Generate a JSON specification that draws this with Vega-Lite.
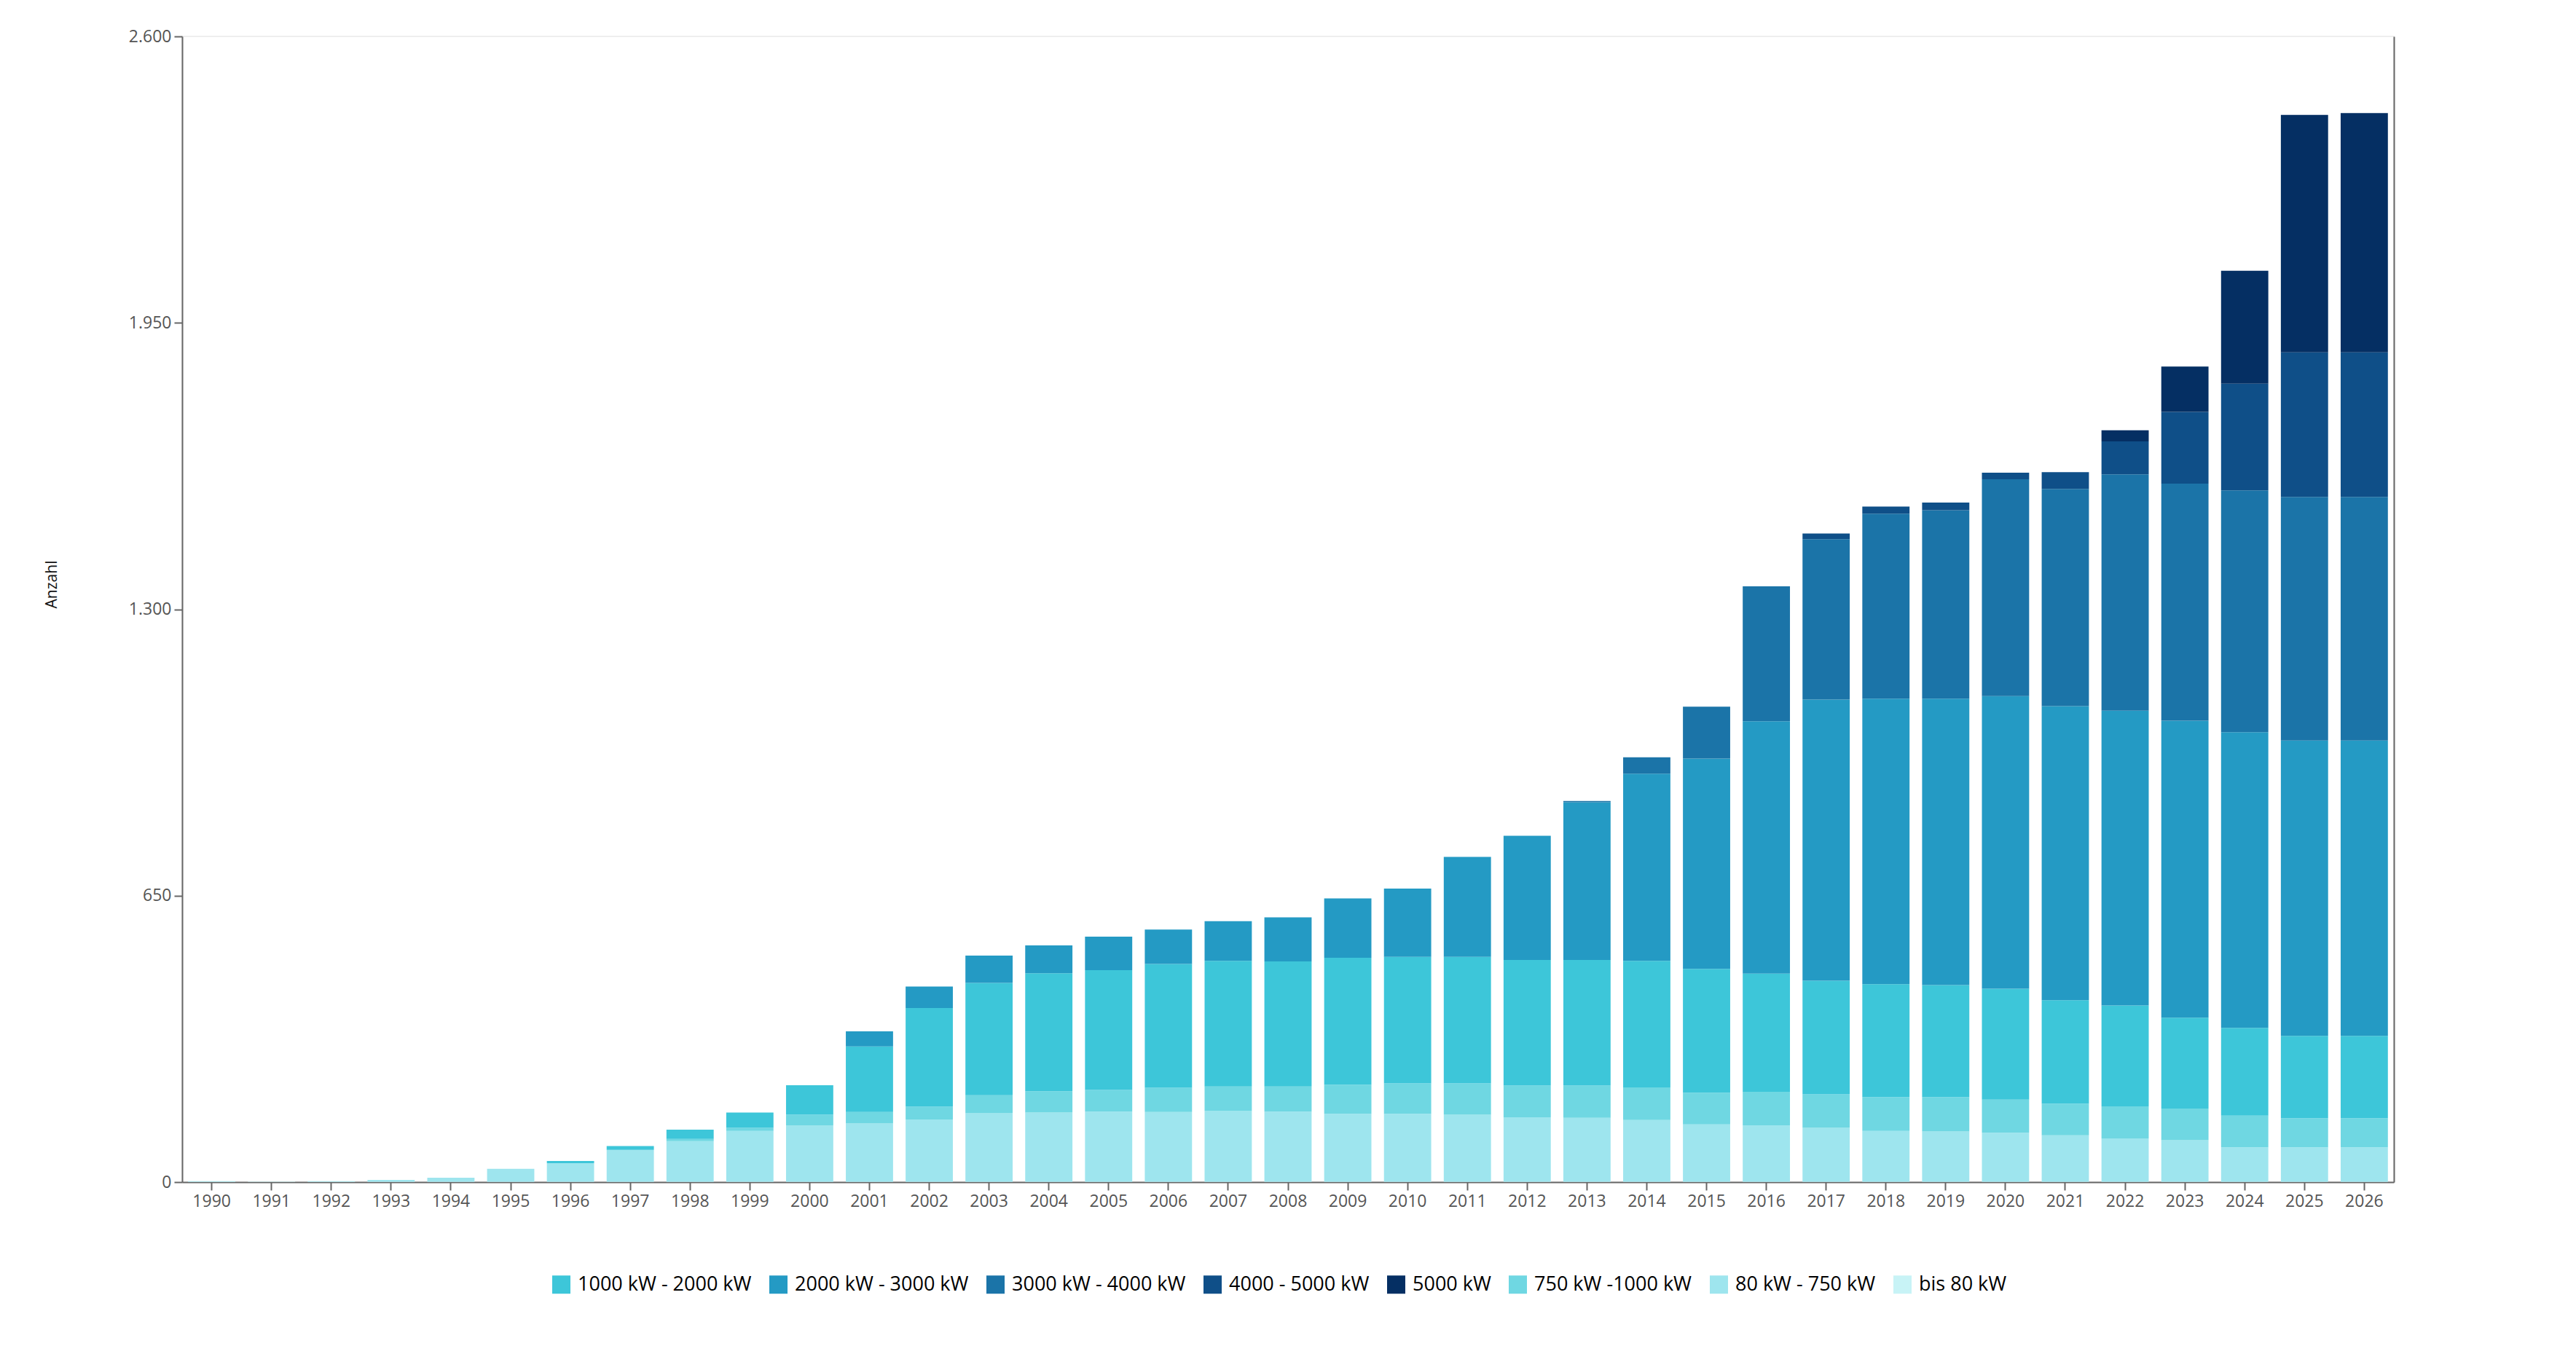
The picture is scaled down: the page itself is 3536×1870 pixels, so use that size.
{
  "$schema": "https://vega.github.io/schema/vega-lite/v6.json",
  "width": 3036,
  "height": 1573,
  "autosize": "none",
  "padding": {"left": 250, "top": 50, "right": 250, "bottom": 247},
  "background": "#ffffff",
  "config": {
    "font": "Open Sans",
    "view": {"stroke": "#eeeeee", "strokeWidth": 2}
  },
  "data": {
    "values": [
      {"Jahr": "1990", "Klasse": "bis 80 kW", "Anzahl": 1},
      {"Jahr": "1990", "Klasse": "80 kW - 750 kW", "Anzahl": 1},
      {"Jahr": "1991", "Klasse": "bis 80 kW", "Anzahl": 1},
      {"Jahr": "1992", "Klasse": "bis 80 kW", "Anzahl": 1},
      {"Jahr": "1992", "Klasse": "80 kW - 750 kW", "Anzahl": 1},
      {"Jahr": "1993", "Klasse": "bis 80 kW", "Anzahl": 1},
      {"Jahr": "1993", "Klasse": "80 kW - 750 kW", "Anzahl": 4},
      {"Jahr": "1994", "Klasse": "bis 80 kW", "Anzahl": 1},
      {"Jahr": "1994", "Klasse": "80 kW - 750 kW", "Anzahl": 9},
      {"Jahr": "1995", "Klasse": "bis 80 kW", "Anzahl": 1},
      {"Jahr": "1995", "Klasse": "80 kW - 750 kW", "Anzahl": 29},
      {"Jahr": "1996", "Klasse": "bis 80 kW", "Anzahl": 1},
      {"Jahr": "1996", "Klasse": "80 kW - 750 kW", "Anzahl": 42},
      {"Jahr": "1996", "Klasse": "1000 kW - 2000 kW", "Anzahl": 5},
      {"Jahr": "1997", "Klasse": "bis 80 kW", "Anzahl": 1},
      {"Jahr": "1997", "Klasse": "80 kW - 750 kW", "Anzahl": 72},
      {"Jahr": "1997", "Klasse": "1000 kW - 2000 kW", "Anzahl": 9},
      {"Jahr": "1998", "Klasse": "bis 80 kW", "Anzahl": 1},
      {"Jahr": "1998", "Klasse": "80 kW - 750 kW", "Anzahl": 92},
      {"Jahr": "1998", "Klasse": "750 kW -1000 kW", "Anzahl": 5},
      {"Jahr": "1998", "Klasse": "1000 kW - 2000 kW", "Anzahl": 21},
      {"Jahr": "1999", "Klasse": "bis 80 kW", "Anzahl": 1},
      {"Jahr": "1999", "Klasse": "80 kW - 750 kW", "Anzahl": 115},
      {"Jahr": "1999", "Klasse": "750 kW -1000 kW", "Anzahl": 7},
      {"Jahr": "1999", "Klasse": "1000 kW - 2000 kW", "Anzahl": 35},
      {"Jahr": "2000", "Klasse": "bis 80 kW", "Anzahl": 1},
      {"Jahr": "2000", "Klasse": "80 kW - 750 kW", "Anzahl": 127},
      {"Jahr": "2000", "Klasse": "750 kW -1000 kW", "Anzahl": 25},
      {"Jahr": "2000", "Klasse": "1000 kW - 2000 kW", "Anzahl": 67},
      {"Jahr": "2001", "Klasse": "bis 80 kW", "Anzahl": 1},
      {"Jahr": "2001", "Klasse": "80 kW - 750 kW", "Anzahl": 132},
      {"Jahr": "2001", "Klasse": "750 kW -1000 kW", "Anzahl": 26},
      {"Jahr": "2001", "Klasse": "1000 kW - 2000 kW", "Anzahl": 149},
      {"Jahr": "2001", "Klasse": "2000 kW - 3000 kW", "Anzahl": 34},
      {"Jahr": "2002", "Klasse": "bis 80 kW", "Anzahl": 1},
      {"Jahr": "2002", "Klasse": "80 kW - 750 kW", "Anzahl": 141},
      {"Jahr": "2002", "Klasse": "750 kW -1000 kW", "Anzahl": 29},
      {"Jahr": "2002", "Klasse": "1000 kW - 2000 kW", "Anzahl": 224},
      {"Jahr": "2002", "Klasse": "2000 kW - 3000 kW", "Anzahl": 49},
      {"Jahr": "2003", "Klasse": "bis 80 kW", "Anzahl": 1},
      {"Jahr": "2003", "Klasse": "80 kW - 750 kW", "Anzahl": 155},
      {"Jahr": "2003", "Klasse": "750 kW -1000 kW", "Anzahl": 41},
      {"Jahr": "2003", "Klasse": "1000 kW - 2000 kW", "Anzahl": 255},
      {"Jahr": "2003", "Klasse": "2000 kW - 3000 kW", "Anzahl": 62},
      {"Jahr": "2004", "Klasse": "bis 80 kW", "Anzahl": 1},
      {"Jahr": "2004", "Klasse": "80 kW - 750 kW", "Anzahl": 157},
      {"Jahr": "2004", "Klasse": "750 kW -1000 kW", "Anzahl": 48},
      {"Jahr": "2004", "Klasse": "1000 kW - 2000 kW", "Anzahl": 268},
      {"Jahr": "2004", "Klasse": "2000 kW - 3000 kW", "Anzahl": 63},
      {"Jahr": "2005", "Klasse": "bis 80 kW", "Anzahl": 1},
      {"Jahr": "2005", "Klasse": "80 kW - 750 kW", "Anzahl": 159},
      {"Jahr": "2005", "Klasse": "750 kW -1000 kW", "Anzahl": 49},
      {"Jahr": "2005", "Klasse": "1000 kW - 2000 kW", "Anzahl": 272},
      {"Jahr": "2005", "Klasse": "2000 kW - 3000 kW", "Anzahl": 76},
      {"Jahr": "2006", "Klasse": "bis 80 kW", "Anzahl": 1},
      {"Jahr": "2006", "Klasse": "80 kW - 750 kW", "Anzahl": 158},
      {"Jahr": "2006", "Klasse": "750 kW -1000 kW", "Anzahl": 55},
      {"Jahr": "2006", "Klasse": "1000 kW - 2000 kW", "Anzahl": 281},
      {"Jahr": "2006", "Klasse": "2000 kW - 3000 kW", "Anzahl": 78},
      {"Jahr": "2007", "Klasse": "bis 80 kW", "Anzahl": 1},
      {"Jahr": "2007", "Klasse": "80 kW - 750 kW", "Anzahl": 160},
      {"Jahr": "2007", "Klasse": "750 kW -1000 kW", "Anzahl": 56},
      {"Jahr": "2007", "Klasse": "1000 kW - 2000 kW", "Anzahl": 285},
      {"Jahr": "2007", "Klasse": "2000 kW - 3000 kW", "Anzahl": 90},
      {"Jahr": "2008", "Klasse": "bis 80 kW", "Anzahl": 1},
      {"Jahr": "2008", "Klasse": "80 kW - 750 kW", "Anzahl": 159},
      {"Jahr": "2008", "Klasse": "750 kW -1000 kW", "Anzahl": 57},
      {"Jahr": "2008", "Klasse": "1000 kW - 2000 kW", "Anzahl": 284},
      {"Jahr": "2008", "Klasse": "2000 kW - 3000 kW", "Anzahl": 100},
      {"Jahr": "2009", "Klasse": "bis 80 kW", "Anzahl": 1},
      {"Jahr": "2009", "Klasse": "80 kW - 750 kW", "Anzahl": 154},
      {"Jahr": "2009", "Klasse": "750 kW -1000 kW", "Anzahl": 66},
      {"Jahr": "2009", "Klasse": "1000 kW - 2000 kW", "Anzahl": 288},
      {"Jahr": "2009", "Klasse": "2000 kW - 3000 kW", "Anzahl": 135},
      {"Jahr": "2010", "Klasse": "bis 80 kW", "Anzahl": 1},
      {"Jahr": "2010", "Klasse": "80 kW - 750 kW", "Anzahl": 154},
      {"Jahr": "2010", "Klasse": "750 kW -1000 kW", "Anzahl": 69},
      {"Jahr": "2010", "Klasse": "1000 kW - 2000 kW", "Anzahl": 287},
      {"Jahr": "2010", "Klasse": "2000 kW - 3000 kW", "Anzahl": 155},
      {"Jahr": "2011", "Klasse": "bis 80 kW", "Anzahl": 1},
      {"Jahr": "2011", "Klasse": "80 kW - 750 kW", "Anzahl": 152},
      {"Jahr": "2011", "Klasse": "750 kW -1000 kW", "Anzahl": 71},
      {"Jahr": "2011", "Klasse": "1000 kW - 2000 kW", "Anzahl": 287},
      {"Jahr": "2011", "Klasse": "2000 kW - 3000 kW", "Anzahl": 227},
      {"Jahr": "2012", "Klasse": "bis 80 kW", "Anzahl": 1},
      {"Jahr": "2012", "Klasse": "80 kW - 750 kW", "Anzahl": 146},
      {"Jahr": "2012", "Klasse": "750 kW -1000 kW", "Anzahl": 72},
      {"Jahr": "2012", "Klasse": "1000 kW - 2000 kW", "Anzahl": 285},
      {"Jahr": "2012", "Klasse": "2000 kW - 3000 kW", "Anzahl": 282},
      {"Jahr": "2013", "Klasse": "bis 80 kW", "Anzahl": 1},
      {"Jahr": "2013", "Klasse": "80 kW - 750 kW", "Anzahl": 145},
      {"Jahr": "2013", "Klasse": "750 kW -1000 kW", "Anzahl": 73},
      {"Jahr": "2013", "Klasse": "1000 kW - 2000 kW", "Anzahl": 285},
      {"Jahr": "2013", "Klasse": "2000 kW - 3000 kW", "Anzahl": 358},
      {"Jahr": "2013", "Klasse": "3000 kW - 4000 kW", "Anzahl": 3},
      {"Jahr": "2014", "Klasse": "bis 80 kW", "Anzahl": 1},
      {"Jahr": "2014", "Klasse": "80 kW - 750 kW", "Anzahl": 140},
      {"Jahr": "2014", "Klasse": "750 kW -1000 kW", "Anzahl": 74},
      {"Jahr": "2014", "Klasse": "1000 kW - 2000 kW", "Anzahl": 287},
      {"Jahr": "2014", "Klasse": "2000 kW - 3000 kW", "Anzahl": 425},
      {"Jahr": "2014", "Klasse": "3000 kW - 4000 kW", "Anzahl": 37},
      {"Jahr": "2015", "Klasse": "bis 80 kW", "Anzahl": 1},
      {"Jahr": "2015", "Klasse": "80 kW - 750 kW", "Anzahl": 130},
      {"Jahr": "2015", "Klasse": "750 kW -1000 kW", "Anzahl": 72},
      {"Jahr": "2015", "Klasse": "1000 kW - 2000 kW", "Anzahl": 281},
      {"Jahr": "2015", "Klasse": "2000 kW - 3000 kW", "Anzahl": 477},
      {"Jahr": "2015", "Klasse": "3000 kW - 4000 kW", "Anzahl": 118},
      {"Jahr": "2016", "Klasse": "bis 80 kW", "Anzahl": 1},
      {"Jahr": "2016", "Klasse": "80 kW - 750 kW", "Anzahl": 128},
      {"Jahr": "2016", "Klasse": "750 kW -1000 kW", "Anzahl": 76},
      {"Jahr": "2016", "Klasse": "1000 kW - 2000 kW", "Anzahl": 268},
      {"Jahr": "2016", "Klasse": "2000 kW - 3000 kW", "Anzahl": 573},
      {"Jahr": "2016", "Klasse": "3000 kW - 4000 kW", "Anzahl": 306},
      {"Jahr": "2017", "Klasse": "bis 80 kW", "Anzahl": 1},
      {"Jahr": "2017", "Klasse": "80 kW - 750 kW", "Anzahl": 122},
      {"Jahr": "2017", "Klasse": "750 kW -1000 kW", "Anzahl": 76},
      {"Jahr": "2017", "Klasse": "1000 kW - 2000 kW", "Anzahl": 258},
      {"Jahr": "2017", "Klasse": "2000 kW - 3000 kW", "Anzahl": 638},
      {"Jahr": "2017", "Klasse": "3000 kW - 4000 kW", "Anzahl": 364},
      {"Jahr": "2017", "Klasse": "4000 - 5000 kW", "Anzahl": 13},
      {"Jahr": "2018", "Klasse": "bis 80 kW", "Anzahl": 1},
      {"Jahr": "2018", "Klasse": "80 kW - 750 kW", "Anzahl": 115},
      {"Jahr": "2018", "Klasse": "750 kW -1000 kW", "Anzahl": 77},
      {"Jahr": "2018", "Klasse": "1000 kW - 2000 kW", "Anzahl": 256},
      {"Jahr": "2018", "Klasse": "2000 kW - 3000 kW", "Anzahl": 648},
      {"Jahr": "2018", "Klasse": "3000 kW - 4000 kW", "Anzahl": 420},
      {"Jahr": "2018", "Klasse": "4000 - 5000 kW", "Anzahl": 16},
      {"Jahr": "2019", "Klasse": "bis 80 kW", "Anzahl": 1},
      {"Jahr": "2019", "Klasse": "80 kW - 750 kW", "Anzahl": 114},
      {"Jahr": "2019", "Klasse": "750 kW -1000 kW", "Anzahl": 78},
      {"Jahr": "2019", "Klasse": "1000 kW - 2000 kW", "Anzahl": 254},
      {"Jahr": "2019", "Klasse": "2000 kW - 3000 kW", "Anzahl": 650},
      {"Jahr": "2019", "Klasse": "3000 kW - 4000 kW", "Anzahl": 428},
      {"Jahr": "2019", "Klasse": "4000 - 5000 kW", "Anzahl": 17},
      {"Jahr": "2020", "Klasse": "bis 80 kW", "Anzahl": 1},
      {"Jahr": "2020", "Klasse": "80 kW - 750 kW", "Anzahl": 111},
      {"Jahr": "2020", "Klasse": "750 kW -1000 kW", "Anzahl": 75},
      {"Jahr": "2020", "Klasse": "1000 kW - 2000 kW", "Anzahl": 252},
      {"Jahr": "2020", "Klasse": "2000 kW - 3000 kW", "Anzahl": 664},
      {"Jahr": "2020", "Klasse": "3000 kW - 4000 kW", "Anzahl": 492},
      {"Jahr": "2020", "Klasse": "4000 - 5000 kW", "Anzahl": 15},
      {"Jahr": "2021", "Klasse": "bis 80 kW", "Anzahl": 1},
      {"Jahr": "2021", "Klasse": "80 kW - 750 kW", "Anzahl": 105},
      {"Jahr": "2021", "Klasse": "750 kW -1000 kW", "Anzahl": 72},
      {"Jahr": "2021", "Klasse": "1000 kW - 2000 kW", "Anzahl": 235},
      {"Jahr": "2021", "Klasse": "2000 kW - 3000 kW", "Anzahl": 667},
      {"Jahr": "2021", "Klasse": "3000 kW - 4000 kW", "Anzahl": 493},
      {"Jahr": "2021", "Klasse": "4000 - 5000 kW", "Anzahl": 38},
      {"Jahr": "2022", "Klasse": "bis 80 kW", "Anzahl": 1},
      {"Jahr": "2022", "Klasse": "80 kW - 750 kW", "Anzahl": 98},
      {"Jahr": "2022", "Klasse": "750 kW -1000 kW", "Anzahl": 73},
      {"Jahr": "2022", "Klasse": "1000 kW - 2000 kW", "Anzahl": 229},
      {"Jahr": "2022", "Klasse": "2000 kW - 3000 kW", "Anzahl": 669},
      {"Jahr": "2022", "Klasse": "3000 kW - 4000 kW", "Anzahl": 536},
      {"Jahr": "2022", "Klasse": "4000 - 5000 kW", "Anzahl": 75},
      {"Jahr": "2022", "Klasse": "5000 kW", "Anzahl": 25},
      {"Jahr": "2023", "Klasse": "bis 80 kW", "Anzahl": 1},
      {"Jahr": "2023", "Klasse": "80 kW - 750 kW", "Anzahl": 94},
      {"Jahr": "2023", "Klasse": "750 kW -1000 kW", "Anzahl": 72},
      {"Jahr": "2023", "Klasse": "1000 kW - 2000 kW", "Anzahl": 206},
      {"Jahr": "2023", "Klasse": "2000 kW - 3000 kW", "Anzahl": 674},
      {"Jahr": "2023", "Klasse": "3000 kW - 4000 kW", "Anzahl": 538},
      {"Jahr": "2023", "Klasse": "4000 - 5000 kW", "Anzahl": 163},
      {"Jahr": "2023", "Klasse": "5000 kW", "Anzahl": 103},
      {"Jahr": "2024", "Klasse": "bis 80 kW", "Anzahl": 1},
      {"Jahr": "2024", "Klasse": "80 kW - 750 kW", "Anzahl": 78},
      {"Jahr": "2024", "Klasse": "750 kW -1000 kW", "Anzahl": 72},
      {"Jahr": "2024", "Klasse": "1000 kW - 2000 kW", "Anzahl": 199},
      {"Jahr": "2024", "Klasse": "2000 kW - 3000 kW", "Anzahl": 671},
      {"Jahr": "2024", "Klasse": "3000 kW - 4000 kW", "Anzahl": 549},
      {"Jahr": "2024", "Klasse": "4000 - 5000 kW", "Anzahl": 242},
      {"Jahr": "2024", "Klasse": "5000 kW", "Anzahl": 256},
      {"Jahr": "2025", "Klasse": "bis 80 kW", "Anzahl": 1},
      {"Jahr": "2025", "Klasse": "80 kW - 750 kW", "Anzahl": 78},
      {"Jahr": "2025", "Klasse": "750 kW -1000 kW", "Anzahl": 66},
      {"Jahr": "2025", "Klasse": "1000 kW - 2000 kW", "Anzahl": 187},
      {"Jahr": "2025", "Klasse": "2000 kW - 3000 kW", "Anzahl": 670},
      {"Jahr": "2025", "Klasse": "3000 kW - 4000 kW", "Anzahl": 553},
      {"Jahr": "2025", "Klasse": "4000 - 5000 kW", "Anzahl": 328},
      {"Jahr": "2025", "Klasse": "5000 kW", "Anzahl": 539},
      {"Jahr": "2026", "Klasse": "bis 80 kW", "Anzahl": 1},
      {"Jahr": "2026", "Klasse": "80 kW - 750 kW", "Anzahl": 78},
      {"Jahr": "2026", "Klasse": "750 kW -1000 kW", "Anzahl": 66},
      {"Jahr": "2026", "Klasse": "1000 kW - 2000 kW", "Anzahl": 187},
      {"Jahr": "2026", "Klasse": "2000 kW - 3000 kW", "Anzahl": 670},
      {"Jahr": "2026", "Klasse": "3000 kW - 4000 kW", "Anzahl": 553},
      {"Jahr": "2026", "Klasse": "4000 - 5000 kW", "Anzahl": 328},
      {"Jahr": "2026", "Klasse": "5000 kW", "Anzahl": 543}
    ]
  },
  "transform": [
    {"calculate": "indexof(['bis 80 kW', '80 kW - 750 kW', '750 kW -1000 kW', '1000 kW - 2000 kW', '2000 kW - 3000 kW', '3000 kW - 4000 kW', '4000 - 5000 kW', '5000 kW'], datum.Klasse)", "as": "Reihenfolge"}
  ],
  "layer": [
    {
      "mark": {"type": "bar"},
      "encoding": {
        "x": {
          "field": "Jahr",
          "type": "ordinal",
          "scale": {"paddingInner": 0.21, "paddingOuter": 0.1},
          "axis": {
            "title": null,
            "labelAngle": 0,
            "labelFontSize": 23,
            "labelColor": "#555555",
            "labelPadding": 4,
            "tickSize": 11,
            "tickColor": "#666666",
            "domainColor": "#666666",
            "domainWidth": 2,
            "tickWidth": 2
          }
        },
        "y": {
          "field": "Anzahl",
          "type": "quantitative",
          "stack": "zero",
          "scale": {"domain": [0, 2600], "nice": false},
          "axis": {
            "values": [0, 650, 1300, 1950, 2600],
            "labelExpr": "replace(format(datum.value, ','), ',', '.')",
            "grid": false,
            "title": "Anzahl",
            "titleFontSize": 21,
            "titleFontWeight": "normal",
            "titleColor": "#111111",
            "titlePadding": 95,
            "titleY": 752,
            "labelFontSize": 23,
            "labelColor": "#555555",
            "labelPadding": 4,
            "tickSize": 11,
            "tickColor": "#666666",
            "domainColor": "#666666",
            "domainWidth": 2,
            "tickWidth": 2
          }
        },
        "color": {
          "field": "Klasse",
          "type": "nominal",
          "scale": {
            "domain": ["1000 kW - 2000 kW", "2000 kW - 3000 kW", "3000 kW - 4000 kW", "4000 - 5000 kW", "5000 kW", "750 kW -1000 kW", "80 kW - 750 kW", "bis 80 kW"],
            "range": ["#3dc6d9", "#249ac4", "#1b74a8", "#0f4f88", "#052f63", "#6fd7e2", "#9ee5ee", "#c8f3f6"]
          },
          "legend": {
            "orient": "none",
            "legendX": 507,
            "legendY": 1700,
            "direction": "horizontal",
            "title": null,
            "symbolType": "square",
            "symbolSize": 625,
            "symbolStrokeWidth": 0,
            "labelFontSize": 27,
            "labelColor": "#000000",
            "labelOffset": 9,
            "labelLimit": 0,
            "columnPadding": 23
          }
        },
        "order": {"field": "Reihenfolge", "type": "quantitative"}
      }
    },
    {
      "mark": {"type": "rule", "strokeOpacity": 0},
      "encoding": {
        "y": {
          "datum": 0,
          "type": "quantitative",
          "axis": {
            "orient": "right",
            "labels": false,
            "ticks": false,
            "title": null,
            "grid": false,
            "domainColor": "#666666",
            "domainWidth": 2
          }
        }
      }
    }
  ],
  "resolve": {"axis": {"y": "independent"}}
}
